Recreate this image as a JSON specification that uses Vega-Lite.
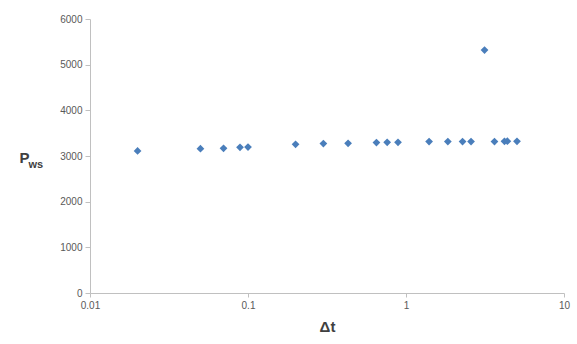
{
  "$schema": "https://vega.github.io/schema/vega-lite/v6.json",
  "autosize": "none",
  "padding": {"left": 90, "top": 19, "right": 13, "bottom": 51},
  "width": 474,
  "height": 274,
  "background": "white",
  "config": {
    "view": {"stroke": null},
    "axis": {
      "grid": false,
      "domainColor": "#c0c0c0",
      "tickColor": "#c0c0c0",
      "labelColor": "#595959",
      "labelFont": "Liberation Sans",
      "labelFontSize": 10,
      "titleFont": "Liberation Sans",
      "titleColor": "#404040"
    }
  },
  "data": {
    "values": [
      {"dt": 0.02, "pws": 3110},
      {"dt": 0.05, "pws": 3161},
      {"dt": 0.07, "pws": 3168},
      {"dt": 0.089, "pws": 3190},
      {"dt": 0.1, "pws": 3197},
      {"dt": 0.2, "pws": 3256},
      {"dt": 0.3, "pws": 3271},
      {"dt": 0.43, "pws": 3278},
      {"dt": 0.65, "pws": 3293},
      {"dt": 0.76, "pws": 3300},
      {"dt": 0.89, "pws": 3300},
      {"dt": 1.4, "pws": 3315},
      {"dt": 1.84, "pws": 3315},
      {"dt": 2.28, "pws": 3315},
      {"dt": 2.58, "pws": 3315},
      {"dt": 3.14, "pws": 5319},
      {"dt": 3.63, "pws": 3315},
      {"dt": 4.2, "pws": 3322},
      {"dt": 4.38, "pws": 3325},
      {"dt": 5.04, "pws": 3322}
    ]
  },
  "layer": [
    {
      "mark": {"type": "point", "shape": "diamond", "filled": true, "size": 60, "color": "#4a7ebb", "opacity": 1},
      "encoding": {
        "x": {
          "field": "dt", "type": "quantitative",
          "scale": {"type": "log", "domain": [0.01, 10]},
          "axis": {
            "values": [0.01, 0.1, 1, 10], "format": "~g", "tickSize": 4, "labelPadding": 3, "labelFlush": false,
            "title": "Δt", "titleFontSize": 15, "titleFontWeight": "bold", "titleBaseline": "top", "titleY": 26
          }
        },
        "y": {
          "field": "pws", "type": "quantitative",
          "scale": {"domain": [0, 6000]},
          "axis": {
            "values": [0, 1000, 2000, 3000, 4000, 5000, 6000], "format": "d", "tickSize": 5, "labelPadding": 3,
            "title": "P", "titleAngle": 0, "titleFontSize": 15, "titleFontWeight": "bold",
            "titleAlign": "left", "titleBaseline": "alphabetic", "titleX": -71, "titleY": 143
          }
        }
      }
    },
    {
      "mark": {"type": "point", "opacity": 0},
      "encoding": {
        "x": {"field": "dt", "type": "quantitative", "scale": {"type": "log", "domain": [0.01, 10]}},
        "y": {
          "field": "pws", "type": "quantitative",
          "scale": {"domain": [0, 6000]},
          "axis": {
            "orient": "right", "labels": false, "ticks": false, "domain": false,
            "title": "ws", "titleAngle": 0, "titleFontSize": 11, "titleFontWeight": "bold",
            "titleAlign": "left", "titleBaseline": "alphabetic", "titleX": -536, "titleY": 148
          }
        }
      }
    }
  ],
  "resolve": {"axis": {"y": "independent"}}
}
